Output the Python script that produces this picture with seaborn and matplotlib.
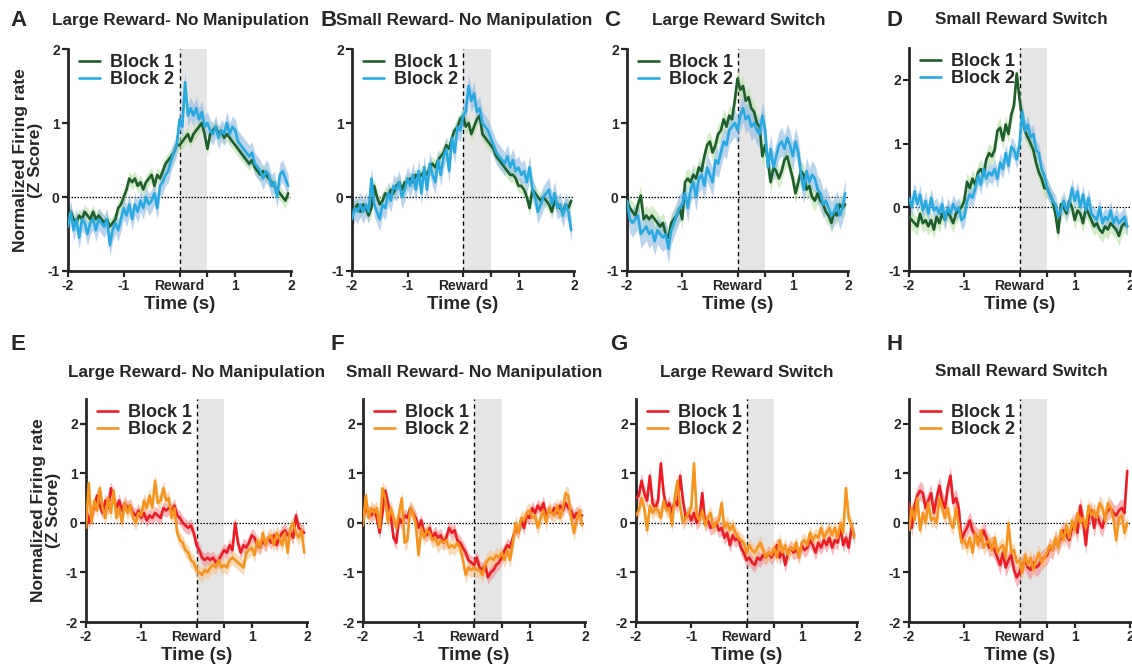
import numpy as np
import matplotlib
matplotlib.use("Agg")
import matplotlib.pyplot as plt
import seaborn as sns

# 50 ms bins, -2 s to +2 s around reward
time_s = np.round(np.arange(-2.0, 2.0, 0.05), 2)

# --- top row (A-D): dark green = block 1, light blue = block 2 ---
a_block1 = [-0.25, -0.2, -0.3, -0.35, -0.25, -0.3, -0.2, -0.25, -0.3, -0.2,
            -0.3, -0.25, -0.3, -0.35, -0.3, -0.4, -0.35, -0.3, -0.15, -0.1,
            0.0, 0.1, 0.25, 0.2, 0.25, 0.15, 0.2, 0.1, 0.2, 0.25,
            0.3, 0.15, 0.3, 0.25, 0.35, 0.45, 0.5, 0.55, 0.6, 0.7,
            0.7, 0.75, 0.8, 0.85, 0.75, 0.85, 0.9, 0.95, 1.0, 0.85,
            0.65, 0.85, 0.9, 0.95, 0.85, 0.9, 0.8, 0.85, 0.8, 0.75,
            0.7, 0.65, 0.6, 0.55, 0.5, 0.45, 0.5, 0.4, 0.35, 0.3,
            0.35, 0.3, 0.25, 0.2, 0.15, 0.1, 0.05, 0.0, -0.05, 0.05]
a_block2 = [-0.4, -0.2, -0.45, -0.3, -0.55, -0.3, -0.35, -0.5, -0.35, -0.3,
            -0.45, -0.3, -0.35, -0.4, -0.3, -0.65, -0.45, -0.35, -0.45, -0.3,
            -0.15, -0.25, -0.1, -0.3, -0.1, -0.2, -0.05, -0.15, 0.0, -0.1,
            -0.05, 0.05, -0.15, 0.15, 0.2, 0.3, 0.35, 0.5, 0.6, 0.7,
            1.05, 0.95, 1.55, 1.1, 1.2, 1.1, 1.2, 1.05, 1.15, 0.95,
            1.0, 0.9, 0.85, 0.95, 0.8, 0.9, 0.85, 1.0, 0.85, 0.95,
            0.9, 0.75, 0.7, 0.65, 0.6, 0.55, 0.6, 0.45, 0.4, 0.35,
            0.25, 0.35, 0.3, 0.15, 0.2, 0.0, 0.3, 0.35, 0.25, 0.15]

b_block1 = [-0.2, -0.15, -0.1, -0.2, -0.1, -0.15, -0.25, -0.15, 0.15, 0.0,
            -0.1, -0.05, 0.05, 0.0, 0.1, 0.05, 0.15, 0.2, 0.1, 0.2,
            0.2, 0.25, 0.2, 0.3, 0.25, 0.3, 0.35, 0.3, 0.4, 0.45,
            0.4, 0.5, 0.55, 0.6, 0.7, 0.65, 0.8, 0.9, 0.95, 1.05,
            1.1, 0.95, 1.0, 0.85, 0.95, 1.05, 1.1, 0.85, 0.8, 0.75,
            0.7, 0.65, 0.55, 0.5, 0.45, 0.4, 0.35, 0.3, 0.3, 0.25,
            0.15, 0.15, 0.1, 0.0, -0.15, 0.1, 0.05, 0.0, -0.05, 0.0,
            -0.05, -0.1, -0.2, -0.05, -0.1, -0.15, -0.2, -0.1, -0.15, -0.05]
b_block2 = [-0.3, -0.15, -0.2, -0.1, -0.2, -0.1, -0.2, 0.25, -0.1, -0.2,
            -0.3, -0.1, -0.15, 0.05, -0.05, 0.15, 0.1, 0.2, 0.0, 0.1,
            0.25, 0.15, 0.3, 0.1, 0.35, 0.05, 0.4, 0.1, 0.45, 0.3,
            0.2, 0.5, 0.3, 0.55, 0.65, 0.35, 0.8, 0.6, 0.95, 0.9,
            1.1, 1.15, 1.5, 1.3, 1.4, 1.15, 1.2, 1.0, 0.95, 0.9,
            0.8, 0.7, 0.6, 0.55, 0.5, 0.45, 0.55, 0.4, 0.5, 0.35,
            0.4, 0.3, 0.35, 0.2, 0.4, 0.1, 0.0, -0.2, -0.1, 0.0,
            0.05, 0.1, -0.1, 0.05, -0.15, -0.1, -0.25, -0.1, -0.2, -0.45]

c_block1 = [-0.05, -0.15, -0.2, -0.25, -0.1, 0.02, -0.3, -0.25, -0.3, -0.25,
            -0.3, -0.35, -0.4, -0.35, -0.5, -0.55, -0.35, -0.3, -0.25, -0.15,
            -0.3, 0.2, 0.25, 0.2, 0.3, 0.25, 0.4, 0.35, 0.55, 0.7,
            0.75, 0.6, 0.7, 0.85, 0.9, 1.05, 0.95, 1.1, 1.05, 1.3,
            1.6, 1.45, 1.5, 1.3, 1.35, 1.2, 1.15, 1.0, 0.95, 0.55,
            0.7, 0.5, 0.2, 0.4, 0.35, 0.25, 0.35, 0.5, 0.55, 0.4,
            0.25, 0.05, 0.2, 0.35, 0.3, 0.1, 0.15, 0.0, -0.05, 0.05,
            -0.05, -0.1, -0.2, -0.25, -0.35, -0.2, -0.25, -0.1, -0.15, -0.1]
c_block2 = [-0.05, -0.3, -0.35, -0.3, -0.25, -0.5, -0.45, -0.4, -0.5, -0.45,
            -0.6, -0.45, -0.5, -0.55, -0.5, -0.7, -0.45, -0.35, -0.25, -0.15,
            -0.1, 0.05, -0.15, 0.1, 0.2, 0.0, 0.25, 0.3, 0.15, 0.4,
            0.3, 0.2, 0.5, 0.45, 0.6, 0.75, 0.7, 0.9, 0.95, 1.0,
            0.9, 1.1, 1.2, 1.05, 1.1, 0.95, 1.0, 0.9, 0.85, 1.1,
            0.9, 0.4, 0.65, 0.4, 0.55, 0.7, 0.75, 0.65, 0.8, 0.7,
            0.55, 0.75, 0.6, 0.3, 0.1, 0.35, 0.2, 0.3, 0.25, 0.1,
            0.05, -0.1, -0.05, -0.15, -0.25, -0.2, -0.1, -0.25, -0.15, 0.05]

d_block1 = [-0.15, -0.2, -0.25, -0.3, -0.1, -0.25, -0.2, -0.3, -0.2, -0.35,
            -0.15, -0.25, -0.1, -0.2, -0.05, -0.15, -0.25, -0.1, -0.05, 0.0,
            0.1, 0.4, 0.3, 0.45, 0.35, 0.55, 0.6, 0.5, 0.75, 0.85,
            0.8, 0.9, 1.2, 1.25, 1.05, 1.3, 1.15, 1.45, 1.6, 2.1,
            1.7, 1.4, 1.2, 1.1, 1.0, 0.9, 0.7, 0.55, 0.45, 0.3,
            0.3, 0.2, 0.1, -0.1, -0.4, 0.05, 0.0, -0.1, 0.1, 0.0,
            -0.2, -0.05, -0.1, -0.25, 0.0, -0.1, -0.2, -0.3, -0.25, -0.35,
            -0.4, -0.3, -0.35, -0.25, -0.3, -0.35, -0.45, -0.3, -0.25, -0.3]
d_block2 = [0.15, 0.0, 0.25, 0.05, 0.2, -0.05, 0.1, -0.1, 0.15, -0.05,
            0.0, -0.1, 0.05, -0.2, 0.0, -0.1, 0.05, -0.05, 0.0, -0.2,
            -0.15, 0.1, 0.2, 0.15, 0.3, 0.5, 0.35, 0.6, 0.45, 0.55,
            0.5, 0.6, 0.45, 0.7, 0.6, 0.85, 0.65, 0.95, 0.9, 0.75,
            1.0, 1.5, 1.2, 1.3, 1.1, 1.15, 0.9, 0.85, 0.6, 0.5,
            0.3, 0.2, 0.1, 0.05, -0.15, -0.05, 0.1, -0.05, 0.05, 0.3,
            0.1, 0.25, 0.0, 0.2, -0.05, 0.15, -0.1, -0.15, -0.2, 0.0,
            -0.25, -0.15, -0.2, -0.05, -0.25, -0.15, -0.25, -0.2, -0.15, -0.3]

# --- bottom row (E-H): red = block 1, orange = block 2 ---
e_block1 = [0.3, 0.0, 0.2, 0.3, 0.55, 0.35, 0.2, 0.45, 0.3, 0.7,
            0.5, 0.3, 0.45, 0.25, 0.4, 0.3, 0.35, 0.2, 0.15, 0.25,
            0.1, 0.2, 0.05, 0.15, 0.1, 0.2, 0.15, 0.1, 0.3, 0.25,
            0.3, 0.25, 0.35, 0.15, 0.1, 0.0, -0.05, -0.1, -0.05, -0.2,
            -0.45, -0.55, -0.7, -0.75, -0.7, -0.75, -0.7, -0.8, -0.75, -0.65,
            -0.55, -0.6, -0.45, -0.55, 0.0, -0.4, -0.6, -0.45, -0.5, -0.4,
            -0.25, -0.3, -0.45, -0.5, -0.35, -0.45, -0.3, -0.4, -0.25, -0.45,
            -0.3, -0.2, -0.15, -0.25, -0.2, -0.3, 0.15, -0.1, -0.15, -0.2]
e_block2 = [-0.1, 0.8, 0.0, 0.45, 0.25, 0.7, 0.3, 0.1, 0.5, 0.2,
            0.65, 0.1, 0.3, 0.0, 0.4, 0.2, 0.35, 0.1, 0.0, 0.2,
            0.15, 0.45, 0.3, 0.55, 0.3, 0.85, 0.4, 0.45, 0.7, 0.45,
            0.5, 0.1, 0.3, -0.2, -0.35, -0.4, -0.55, -0.6, -0.75, -0.8,
            -0.95, -1.0, -1.05, -0.95, -1.0, -0.9, -0.85, -0.9, -0.75, -0.9,
            -0.85, -0.9, -0.75, -0.7, -0.75, -0.8, -0.85, -0.9, -0.6, -0.55,
            -0.5, -0.65, -0.35, -0.5, -0.2, -0.45, -0.3, -0.25, -0.45, -0.2,
            -0.3, -0.45, -0.2, -0.6, -0.1, 0.0, -0.2, -0.3, -0.15, -0.6]

f_block1 = [0.1, 0.3, 0.2, 0.15, 0.25, 0.1, -0.2, 0.2, 0.65, 0.4,
            0.15, -0.3, -0.4, 0.1, 0.0, 0.15, 0.1, 0.3, 0.2, 0.1,
            -0.1, 0.05, -0.2, -0.25, -0.1, -0.3, -0.2, -0.3, -0.25, -0.4,
            -0.3, -0.1, -0.2, -0.15, -0.35, -0.4, -0.5, -0.6, -0.75, -0.8,
            -0.85, -0.7, -0.9, -0.95, -0.85, -1.1, -1.0, -0.95, -0.85, -0.8,
            -0.7, -0.55, -0.45, -0.5, -0.3, -0.1, -0.2, 0.05, -0.1, 0.15,
            0.1, 0.3, 0.2, 0.35, 0.25, 0.4, 0.15, 0.25, 0.2, 0.3,
            0.2, 0.35, 0.25, 0.4, 0.3, 0.25, 0.1, 0.2, 0.15, 0.15]
f_block2 = [-0.05, 0.55, 0.1, 0.3, 0.2, 0.3, -0.1, 0.7, 0.5, 0.0,
            0.3, 0.1, -0.1, 0.2, 0.5, -0.4, -0.35, 0.3, 0.2, 0.0,
            -0.65, -0.1, -0.3, -0.15, -0.2, -0.35, -0.3, -0.45, -0.35, -0.4,
            -0.35, -0.5, -0.45, -0.5, -0.4, -0.5, -0.75, -1.05, -0.9, -0.95,
            -0.9, -0.95, -0.95, -1.05, -0.85, -0.75, -0.7, -0.75, -0.65, -0.7,
            -0.6, -0.75, -0.55, -0.75, -0.4, 0.0, -0.2, 0.1, 0.05, 0.2,
            0.25, 0.1, 0.15, -0.1, 0.1, 0.25, 0.0, 0.3, 0.2, 0.15,
            0.35, 0.1, 0.3, 0.6, 0.55, 0.1, -0.2, 0.05, 0.25, -0.05]

g_block1 = [0.5, 0.55, 0.85, 0.6, 0.45, 0.95, 0.4, 0.3, 0.45, 1.2,
            0.6, 0.3, 0.4, 0.2, 0.45, 0.35, 0.95, 0.45, 0.1, 0.2,
            0.05, 0.2, 0.0, 0.1, 0.6, 0.0, 0.05, -0.1, -0.05, 0.0,
            -0.15, -0.1, -0.3, -0.2, -0.45, -0.25, -0.35, -0.3, -0.5, -0.6,
            -0.75, -0.7, -0.8, -0.85, -0.7, -0.75, -0.65, -0.7, -0.6, -0.7,
            -0.6, -0.45, -0.7, -0.55, -0.85, -0.6, -0.5, -0.6, -0.55, -0.65,
            -0.45, -0.55, -0.5, -0.35, -0.45, -0.6, -0.4, -0.5, -0.35, -0.45,
            -0.3, -0.5, -0.35, -0.4, -0.1, -0.45, -0.3, -0.5, -0.1, -0.25]
g_block2 = [0.15, 0.25, 0.5, 0.3, -0.15, 0.35, 0.2, 0.3, 0.25, 0.1,
            0.45, 0.25, 0.3, -0.05, 0.5, 0.85, 0.3, 0.0, 0.1, 0.2,
            0.3, 1.2, 0.15, 0.05, 0.25, -0.05, 0.1, 0.2, -0.1, 0.0,
            0.05, 0.4, -0.1, 0.0, -0.15, -0.05, -0.2, -0.3, -0.35, -0.4,
            -0.6, -0.45, -0.55, -0.6, -0.5, -0.4, -0.55, -0.7, -0.6, -0.65,
            -0.5, -0.7, -0.35, -0.6, -0.45, -0.65, -0.5, -0.55, -0.4, -0.7,
            -0.4, -0.35, -0.45, -0.2, -0.35, -0.25, -0.3, -0.1, -0.3, -0.2,
            -0.1, -0.25, -0.1, -0.3, 0.0, -0.2, 0.7, 0.1, -0.05, -0.3]

h_block1 = [0.4, -0.1, 0.35, 0.55, 0.65, 0.6, 0.3, 0.45, 0.6, 0.2,
            0.5, 0.75, 0.45, 0.3, 0.7, 0.95, 0.4, 0.5, 0.3, -0.35,
            -0.2, -0.1, 0.05, -0.15, -0.25, -0.3, -0.35, -0.15, -0.3, -0.5,
            -0.45, -0.55, -0.7, -0.85, -0.6, -0.9, -0.75, -0.65, -0.95, -1.1,
            -1.0, -0.85, -0.75, -0.9, -0.95, -0.8, -0.9, -0.85, -0.75, -0.7,
            -0.65, -0.5, -0.55, -0.35, -0.45, -0.3, -0.15, -0.25, -0.35, -0.1,
            0.0, -0.2, 0.35, 0.05, -0.45, 0.1, 0.25, -0.1, 0.2, 0.0,
            -0.1, 0.15, 0.25, 0.3, 0.2, 0.15, 0.25, 0.3, 0.2, 1.05]
h_block2 = [-0.15, 0.3, 0.05, 0.5, -0.15, 0.2, 0.0, 0.4, 0.05, 0.1,
            0.0, 0.5, 0.3, 0.1, 0.3, 0.0, -0.1, 0.3, -0.05, -0.4,
            -0.35, -0.5, -0.3, -0.6, -0.2, -0.45, -0.15, -0.5, -0.4, -0.35,
            -0.55, -0.3, -0.6, -0.5, -0.45, -0.7, 0.0, -0.6, -0.55, -0.8,
            -0.75, -1.0, -0.65, -0.85, -0.7, -0.95, -0.75, -0.6, -0.8, -0.7,
            -0.6, -0.45, -0.55, -0.3, -0.5, -0.15, -0.35, -0.05, -0.3, 0.05,
            -0.15, 0.2, 0.0, 0.1, -0.1, 0.35, 0.15, 0.25, 0.1, 0.4,
            0.3, 0.05, 0.4, 0.3, 0.1, -0.35, 0.1, 0.15, -0.2, 0.0]

# rough SEM half-widths read from the shaded bands (block 1, block 2)
sem_top = [(0.1, 0.15), (0.1, 0.16), (0.14, 0.19), (0.15, 0.15)]
sem_bottom = [(0.14, 0.15), (0.14, 0.16), (0.15, 0.15), (0.19, 0.16)]

titles = ["Large Reward- No Manipulation", "Small Reward- No Manipulation",
          "Large Reward Switch", "Small Reward Switch"]
letters_top = ["A", "B", "C", "D"]
letters_bottom = ["E", "F", "G", "H"]
block_labels = ["Block 1", "Block 2"]

green, blue = "#1d5e2b", "#27aae1"
green_band, blue_band = "#b9e0a5", "#8fb8e3"
red, orange = "#ec1c24", "#f7941d"
red_band, orange_band = "#f08a90", "#f6c28c"

sns.set_style("ticks")
plt.rcParams["font.family"] = ["Liberation Sans", "DejaVu Sans"]
plt.rcParams["font.weight"] = "bold"
plt.rcParams["axes.labelweight"] = "bold"

W, H = 1132, 667
fig = plt.figure(figsize=(W / 100, H / 100), dpi=100)


def px_axes(left, top, right, bottom):
    return fig.add_axes([left / W, 1 - bottom / H, (right - left) / W, (bottom - top) / H])


def draw_panel(ax, b1, b2, sems, cols, bands, ylim, yticks):
    ax.axvspan(0, 0.5, color="#e5e5e5", lw=0, zorder=0)
    ax.axhline(0, color="black", lw=0.9, ls=(0, (1.2, 1.2)), zorder=1)
    ax.axvline(0, color="black", lw=1.0, ls=(0, (3, 2.5)), zorder=1)
    for vals, s, c, bc, lab in zip([b1, b2], sems, cols, bands, block_labels):
        vals = np.asarray(vals)
        ax.fill_between(time_s, vals - s, vals + s, color=bc, alpha=0.6, lw=0, zorder=2)
        sns.lineplot(x=time_s, y=vals, color=c, lw=1.9, label=lab, ax=ax, zorder=3)
    ax.set_xlim(-2, 2)
    ax.set_ylim(*ylim)
    ax.set_xticks([-2, -1, 0, 0.5, 1, 2])
    ax.set_xticklabels(["-2", "-1", "Reward", "", "1", "2"])
    ax.set_yticks(yticks)
    ax.set_yticklabels([str(v) for v in yticks])
    ax.tick_params(axis="both", length=4, width=1.6, labelsize=10, pad=2)
    for side in ["top", "right"]:
        ax.spines[side].set_visible(False)
    for side in ["left", "bottom"]:
        ax.spines[side].set_linewidth(2.0)
    ax.set_xlabel("Time (s)", fontsize=13.5, labelpad=2)
    ax.set_ylabel("")
    ax.legend(frameon=False, loc="upper left", bbox_to_anchor=(0.0, 1.025),
              prop={"weight": "bold", "size": 13}, handlelength=1.15,
              handletextpad=0.55, labelspacing=0.0, borderaxespad=0.2)


top_series = [(a_block1, a_block2), (b_block1, b_block2), (c_block1, c_block2), (d_block1, d_block2)]
bottom_series = [(e_block1, e_block2), (f_block1, f_block2), (g_block1, g_block2), (h_block1, h_block2)]

top_lefts = [68, 352, 627, 909]
top_rights = [291, 574, 848, 1130]
top_ylims = [(-1, 2), (-1, 2), (-1, 2), (-1, 2.5)]
top_letter_x = [10, 320, 604, 886]
top_title_x = [52, 336, 652, 935]

bot_lefts = [86, 363, 636, 909]
bot_rights = [307, 585, 857, 1130]
bot_letter_x = [10, 330, 610, 886]
bot_title_x = [68, 346, 660, 935]

ylab = "Normalized Firing rate\n(Z Score)"

for i in range(4):
    ax = px_axes(top_lefts[i], 48 if i == 3 else 49, top_rights[i], 271)
    draw_panel(ax, *top_series[i], sem_top[i], (green, blue), (green_band, blue_band),
               top_ylims[i], [-1, 0, 1, 2])
    fig.text(top_letter_x[i] / W, 1 - 20 / H, letters_top[i], fontsize=16, weight="bold", va="center")
    fig.text(top_title_x[i] / W, 1 - 20 / H, titles[i], fontsize=12.3, weight="bold", va="center")
    if i == 0:
        ax.set_ylabel(ylab, fontsize=12.5, labelpad=3, linespacing=1.0)

    ax = px_axes(bot_lefts[i], 399, bot_rights[i], 622)
    draw_panel(ax, *bottom_series[i], sem_bottom[i], (red, orange), (red_band, orange_band),
               (-2, 2.5), [-2, -1, 0, 1, 2])
    fig.text(bot_letter_x[i] / W, 1 - 345 / H, letters_bottom[i], fontsize=16, weight="bold", va="center")
    fig.text(bot_title_x[i] / W, 1 - 372 / H, titles[i], fontsize=12.3, weight="bold", va="center")
    if i == 0:
        ax.set_ylabel(ylab, fontsize=12.5, labelpad=3, linespacing=1.0)

fig.savefig("out.png", dpi=100, facecolor="white")
